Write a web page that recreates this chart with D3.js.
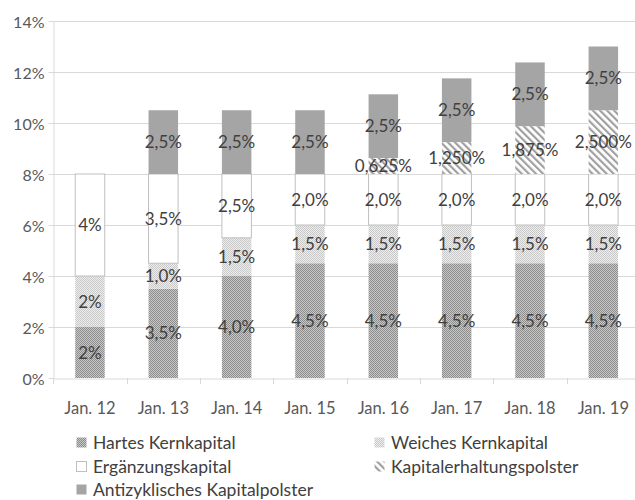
<!DOCTYPE html>
<html><head><meta charset="utf-8">
<script src="https://cdn.jsdelivr.net/npm/d3@7"></script>
<style>body{margin:0;background:#fff;} svg{display:block;font-family:Lato,"Open Sans",sans-serif;}</style>
</head><body>
<svg id="c" width="635" height="500"></svg>
<script>
const categories = ["Jan. 12","Jan. 13","Jan. 14","Jan. 15","Jan. 16","Jan. 17","Jan. 18","Jan. 19"];
const seriesNames = ["Hartes Kernkapital","Weiches Kernkapital","Ergänzungskapital","Kapitalerhaltungspolster","Antizyklisches Kapitalpolster"];
const hartes = [2, 3.5, 4, 4.5, 4.5, 4.5, 4.5, 4.5];
const weiches = [2, 1, 1.5, 1.5, 1.5, 1.5, 1.5, 1.5];
const ergaenzung = [4, 3.5, 2.5, 2, 2, 2, 2, 2];
const erhaltung = [0, 0, 0, 0, 0.625, 1.25, 1.875, 2.5];
const antizyklisch = [0, 2.5, 2.5, 2.5, 2.5, 2.5, 2.5, 2.5];
const hartesLabels = ["2%","3,5%","4,0%","4,5%","4,5%","4,5%","4,5%","4,5%"];
const weichesLabels = ["2%","1,0%","1,5%","1,5%","1,5%","1,5%","1,5%","1,5%"];
const ergaenzungLabels = ["4%","3,5%","2,5%","2,0%","2,0%","2,0%","2,0%","2,0%"];
const erhaltungLabels = ["","","","","0,625%","1,250%","1,875%","2,500%"];
const antiLabels = ["","2,5%","2,5%","2,5%","2,5%","2,5%","2,5%","2,5%"];
const yTicks = [0,2,4,6,8,10,12,14];

const series = [hartes, weiches, ergaenzung, erhaltung, antizyklisch];
const labels = [hartesLabels, weichesLabels, ergaenzungLabels, erhaltungLabels, antiLabels];

const svg = d3.select("#c");
const defs = svg.append("defs");
const p1 = defs.append("pattern").attr("id","pHart").attr("width",2).attr("height",2).attr("patternUnits","userSpaceOnUse");
p1.append("rect").attr("width",2).attr("height",2).attr("fill","#c8c8c8");
p1.append("rect").attr("width",1).attr("height",1).attr("fill","#8c8c8c");
p1.append("rect").attr("x",1).attr("y",1).attr("width",1).attr("height",1).attr("fill","#8c8c8c");
const p2 = defs.append("pattern").attr("id","pWeich").attr("width",2).attr("height",2).attr("patternUnits","userSpaceOnUse");
p2.append("rect").attr("width",2).attr("height",2).attr("fill","#eeeeee");
p2.append("rect").attr("width",1).attr("height",1).attr("fill","#c8c8c8");
p2.append("rect").attr("x",1).attr("y",1).attr("width",1).attr("height",1).attr("fill","#c8c8c8");
const p3 = defs.append("pattern").attr("id","pStripe").attr("width",5).attr("height",5).attr("patternUnits","userSpaceOnUse").attr("patternTransform","rotate(-45)");
p3.append("rect").attr("width",5).attr("height",5).attr("fill","#ffffff");
p3.append("rect").attr("width",2.2).attr("height",5).attr("fill","#a0a0a0");

const fills = ["url(#pHart)","url(#pWeich)","#ffffff","url(#pStripe)","#a5a5a5"];
const strokes = ["none","none","#bfbfbf","none","none"];

const x = d3.scaleBand().domain(categories).range([53.3, 640]).padding(0);
const y = d3.scaleLinear().domain([0,14]).range([378, 21]);
const barW = 29.5;

svg.append("g").selectAll("line").data(yTicks.slice(1)).join("line")
  .attr("x1",53).attr("x2",640).attr("y1",d=>Math.round(y(d))+0.5).attr("y2",d=>Math.round(y(d))+0.5)
  .attr("stroke","#d9d9d9").attr("stroke-width",1);

const yAxis = svg.append("g").attr("transform","translate(53.5,0)")
  .call(d3.axisLeft(y).tickValues(yTicks).tickFormat(d=>d+"%").tickSize(5).tickSizeOuter(0));
yAxis.select(".domain").attr("stroke","#d9d9d9");
yAxis.selectAll(".tick line").attr("stroke","#d9d9d9");
yAxis.selectAll(".tick text").attr("fill","#595959").attr("font-size","16px").attr("x",-9).attr("dy","0.42em").style("font-family","Lato,'Open Sans',sans-serif");

const stackData = categories.map((c,i)=>{
  const o = {cat:c};
  series.forEach((s,k)=>o["s"+k]=s[i]);
  return o;
});
const stack = d3.stack().keys(series.map((s,k)=>"s"+k));
const stacked = stack(stackData);

stacked.forEach((layer,k)=>{
  svg.append("g").selectAll("rect").data(layer.filter(d=>d[1]-d[0]>0)).join("rect")
    .attr("x",d=>x(d.data.cat)+x.bandwidth()/2-barW/2)
    .attr("width",barW)
    .attr("y",d=>y(d[1]))
    .attr("height",d=>y(d[0])-y(d[1]))
    .attr("fill",fills[k])
    .attr("stroke",strokes[k]).attr("stroke-width",1);
});

const xAxis = svg.append("g").attr("transform","translate(0,378.5)")
  .call(d3.axisBottom(x).tickSize(0).tickSizeOuter(0));
xAxis.select(".domain").attr("stroke","#d9d9d9");
xAxis.selectAll(".tick text").attr("fill","#595959").attr("font-size","16.5px").attr("dy","0").attr("y",35).style("font-family","Lato,'Open Sans',sans-serif");
svg.append("g").selectAll("line").data(categories).join("line")
  .attr("x1",d=>Math.round(x(d))+0.5).attr("x2",d=>Math.round(x(d))+0.5)
  .attr("y1",378).attr("y2",384).attr("stroke","#d9d9d9");

stacked.forEach((layer,k)=>{
  svg.append("g").selectAll("text").data(layer.map((d,i)=>({d,i})).filter(o=>o.d[1]-o.d[0]>0)).join("text")
    .attr("x",o=>x(o.d.data.cat)+x.bandwidth()/2)
    .attr("y",o=>y((o.d[0]+o.d[1])/2)+6)
    .attr("text-anchor","middle")
    .attr("font-size","17px").attr("fill","#404040")
    .text(o=>labels[k][o.i]);
});

const legendPos = [[76,443],[374,443],[76,467],[374,467],[76,490]];
const lg = svg.append("g").selectAll("g").data(seriesNames).join("g")
  .attr("transform",(d,i)=>`translate(${legendPos[i][0]},${legendPos[i][1]})`);
lg.append("rect").attr("x",0.5).attr("y",-5.5).attr("width",10).attr("height",10)
  .attr("fill",(d,i)=>fills[i]).attr("stroke",(d,i)=>i===2?"#bfbfbf":"none");
lg.append("text").attr("x",17).attr("y",6).attr("font-size","17.5px").attr("fill","#404040").text(d=>d);
</script>
</body></html>
